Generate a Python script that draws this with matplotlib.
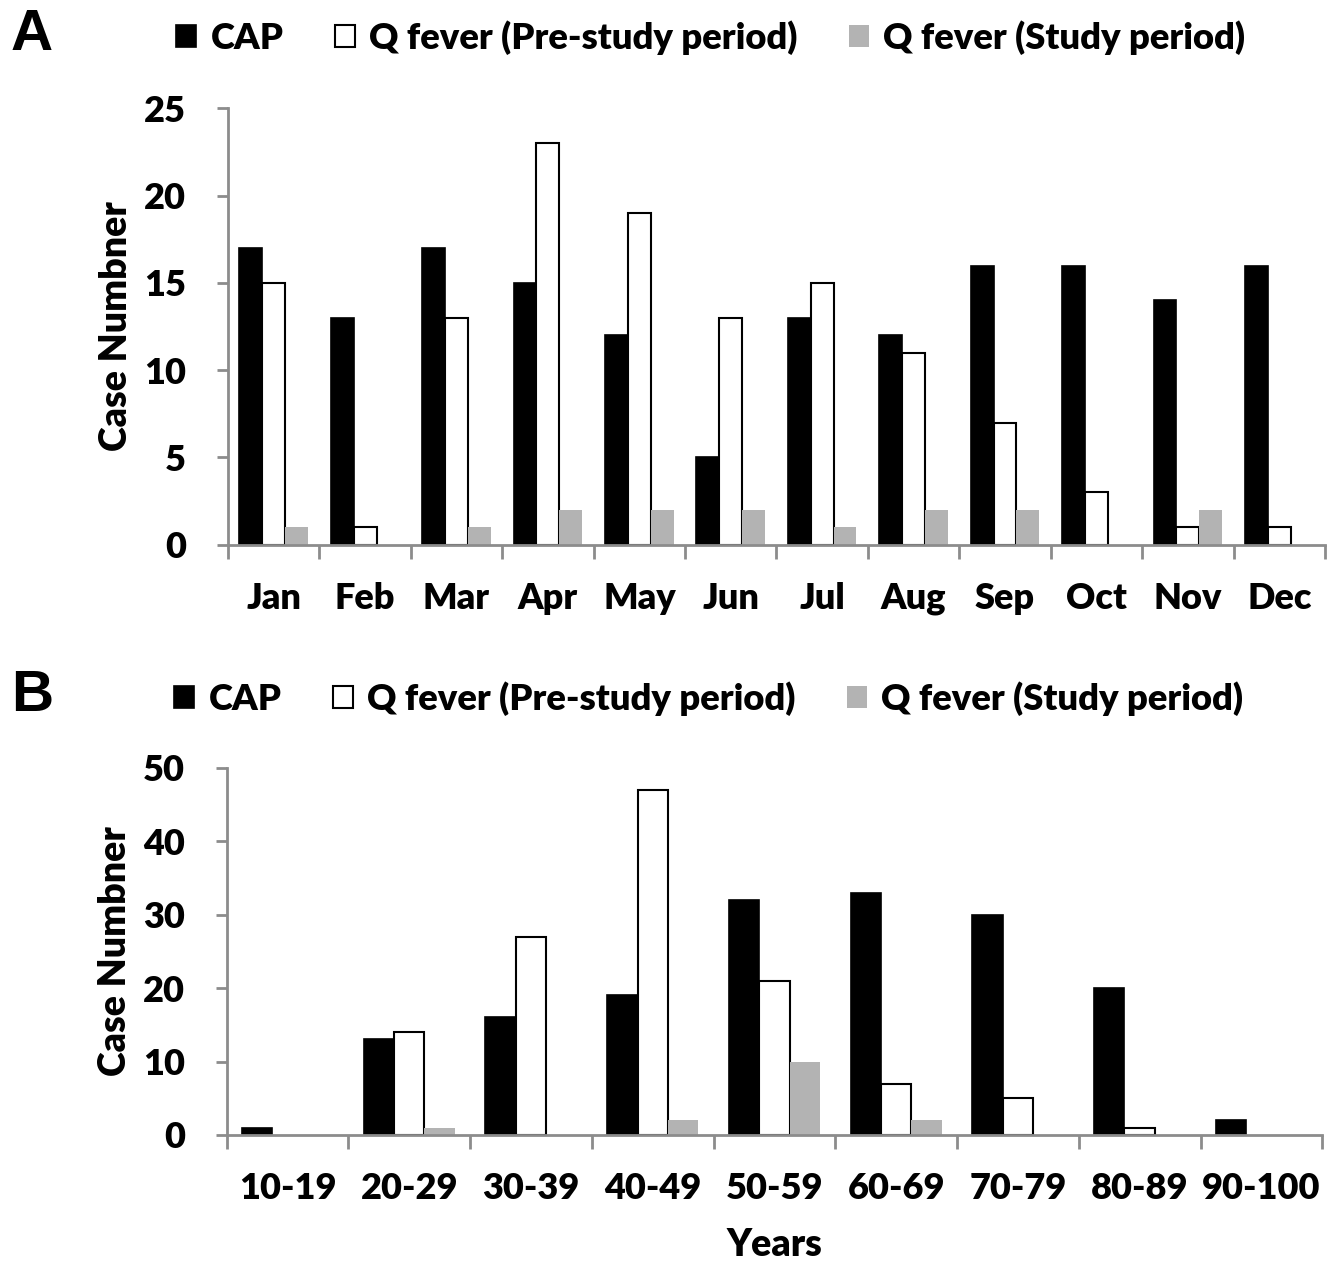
import numpy as np
import matplotlib
matplotlib.use('Agg')
import matplotlib.pyplot as plt
from matplotlib.patches import Patch

plt.rcParams['font.family'] = ['Lato', 'DejaVu Sans']
plt.rcParams['font.weight'] = 'bold'

# Panel A: by month
months = ['Jan', 'Feb', 'Mar', 'Apr', 'May', 'Jun', 'Jul', 'Aug', 'Sep', 'Oct', 'Nov', 'Dec']
cap_month = [17, 13, 17, 15, 12, 5, 13, 12, 16, 16, 14, 16]
qpre_month = [15, 1, 13, 23, 19, 13, 15, 11, 7, 3, 1, 1]
qstudy_month = [1, 0, 1, 2, 2, 2, 1, 2, 2, 0, 2, 0]

# Panel B: by age group
ages = ['10-19', '20-29', '30-39', '40-49', '50-59', '60-69', '70-79', '80-89', '90-100']
cap_age = [1, 13, 16, 19, 32, 33, 30, 20, 2]
qpre_age = [0, 14, 27, 47, 21, 7, 5, 1, 0]
qstudy_age = [0, 1, 0, 2, 10, 2, 0, 0, 0]

series_names = ['CAP', 'Q fever (Pre-study period)', 'Q fever (Study period)']
spine_col = '#8c8c8c'
grey = '#b3b3b3'
fw = 'heavy'


def draw_panel(ax, cats, cap, qpre, qstudy, ymax, ystep, leg_y):
    x = np.arange(len(cats))
    w = 0.25
    b1 = ax.bar(x - w, cap, w, color='black', edgecolor='black', linewidth=1.2)
    b2 = ax.bar(x, qpre, w, color='white', edgecolor='black', linewidth=1.5)
    ax.bar(x + w, qstudy, w, color=grey, edgecolor=grey, linewidth=0)
    # empty bars leave no outline on the axis
    for bars in (b1, b2):
        for r in bars:
            if r.get_height() == 0:
                r.set_linewidth(0)
    ax.set_xlim(-0.5, len(cats) - 0.5)
    ax.set_ylim(0, ymax)
    ax.set_yticks(np.arange(0, ymax + 1, ystep))
    ax.set_xticks(np.arange(-0.5, len(cats), 1.0))
    ax.set_xticklabels([])
    ax.set_xticks(x, minor=True)
    ax.set_xticklabels(cats, minor=True, fontsize=26, fontweight=fw)
    ax.tick_params(axis='x', which='minor', length=0, pad=27)
    ax.tick_params(axis='x', which='major', length=10, width=2, color=spine_col)
    ax.tick_params(axis='y', length=8, width=2, color=spine_col, labelsize=26, pad=22)
    for lab in ax.get_yticklabels():
        lab.set_fontweight(fw)
    for s in ['top', 'right']:
        ax.spines[s].set_visible(False)
    for s in ['left', 'bottom']:
        ax.spines[s].set_color(spine_col)
        ax.spines[s].set_linewidth(2)
    ax.set_ylabel('Case Numbner', fontsize=27, fontweight=fw, labelpad=8)
    handles = [Patch(facecolor='black', edgecolor='black', linewidth=1.2),
               Patch(facecolor='white', edgecolor='black', linewidth=1.5),
               Patch(facecolor=grey, edgecolor=grey, linewidth=0)]
    ax.legend(handles, series_names, loc='center', bbox_to_anchor=(0.44, leg_y),
              ncol=3, frameon=False, handlelength=0.55, handleheight=0.55,
              handletextpad=0.4, columnspacing=1.4, borderaxespad=0,
              prop={'size': 26.2, 'weight': fw})


fig = plt.figure(figsize=(13.33, 12.61), dpi=100)
ax1 = fig.add_axes([0.171, 0.568, 0.823, 0.346])
ax2 = fig.add_axes([0.170, 0.100, 0.822, 0.291])

draw_panel(ax1, months, cap_month, qpre_month, qstudy_month, 25, 5, 1.162)
draw_panel(ax2, ages, cap_age, qpre_age, qstudy_age, 50, 10, 1.19)
ax2.set_xlabel('Years', fontsize=27, fontweight=fw, labelpad=16)

fig.text(0.008, 0.972, 'A', fontsize=42, fontweight='bold', family='Liberation Sans', va='center')
fig.text(0.008, 0.448, 'B', fontsize=42, fontweight='bold', family='Liberation Sans', va='center')

fig.savefig('out.png', dpi=100)
